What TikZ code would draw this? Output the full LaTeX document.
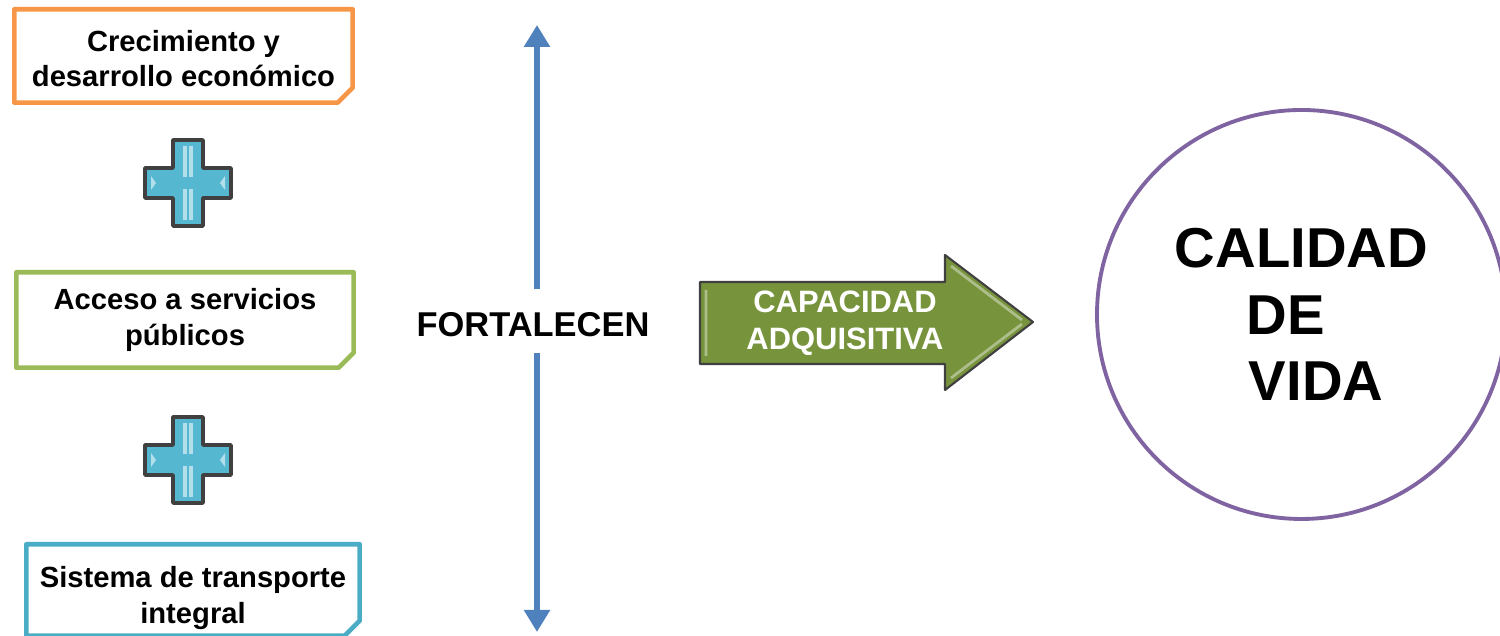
\documentclass[tikz,border=0pt]{standalone}
\usepackage{fontspec}
\setmainfont{Liberation Sans}
\usetikzlibrary{calc,arrows.meta}
\definecolor{orgbox}{HTML}{F79646}
\definecolor{grnbox}{HTML}{9BBB59}
\definecolor{bluebox}{HTML}{4BACC6}
\definecolor{plusblue}{HTML}{55B8D0}
\definecolor{arrowblue}{HTML}{4F81BD}
\definecolor{arrowgreen}{HTML}{77933C}
\definecolor{circpurple}{HTML}{8064A2}

\begin{document}
\begin{tikzpicture}[
  txt/.style={font=\bfseries\fontsize{8.3}{10}\selectfont, align=center, inner sep=0pt},
  frame/.style={line width=1.3pt, line join=round},
  cross/.style={fill=plusblue, draw=black!75, line width=1pt, line join=round},
  vArrow/.style={line width=1.8pt, draw=arrowblue, -{Triangle[width=0.25cm,length=0.22cm]}},
]
\xdef\fold{0.15}
\xdef\armw{0.15}
\xdef\arml{0.43}
\useasboundingbox (0,0) rectangle (15,6.36);
\node[txt, minimum width=3.37cm, minimum height=0.92cm] (crec) at (1.835,5.77) {Crecimiento y\\desarrollo económico};
\node[txt, minimum width=3.36cm, minimum height=0.94cm] (acc) at (1.85,3.16) {Acceso a servicios\\públicos};
\node[txt, minimum width=3.32cm, minimum height=0.90cm] (sis) at (1.93,0.38) {Sistema de transporte\\integral};
\foreach \n/\col/\dy in {crec/orgbox/0.03, acc/grnbox/0, sis/bluebox/0.08}{
  \draw[frame, draw=\col] ($(\n.north west)+(0,\dy)$) -- ($(\n.north east)+(0,\dy)$) -- ($(\n.south east)+(0,\fold+\dy)$) -- ($(\n.south east)+(-\fold,\dy)$) -- ($(\n.south west)+(0,\dy)$) -- cycle;
  \fill[\col] ($(\n.south east)+(0,\fold+\dy)$) -- ($(\n.south east)+(-0.6*\fold,0.45*\fold+\dy)$) -- ($(\n.south east)+(-\fold,\dy)$) -- cycle;
}
\coordinate (plusA) at (1.88,4.53);
\coordinate (plusB) at (1.88,1.76);
\foreach \p in {plusA,plusB}{
  \begin{scope}[shift={(\p)}]
  \draw[cross] (-\armw,\arml) -- (\armw,\arml) -- (\armw,\armw) -- (\arml,\armw) -- (\arml,-\armw) -- (\armw,-\armw) -- (\armw,-\arml) -- (-\armw,-\arml) -- (-\armw,-\armw) -- (-\arml,-\armw) -- (-\arml,\armw) -- (-\armw,\armw) -- cycle;
  \draw[white!55!plusblue, line width=1.2pt] (-0.03,0.37) -- (-0.03,0.06) (0.03,0.37) -- (0.03,0.06) (-0.03,-0.06) -- (-0.03,-0.37) (0.03,-0.06) -- (0.03,-0.37);
  \fill[white!55!plusblue] (-0.37,0.07) -- (-0.32,0) -- (-0.37,-0.07) -- cycle (0.37,0.07) -- (0.32,0) -- (0.37,-0.07) -- cycle;
  \end{scope}
}
\node[font=\bfseries\fontsize{9.8}{12}\selectfont] (fort) at (5.33,3.11) {FORTALECEN};
\coordinate (up) at (5.37,6.11);
\coordinate (dn) at (5.37,0.04);
\draw[vArrow] ($(fort.north -| up)+(0,0.11)$) -- (up);
\draw[vArrow] ($(fort.south -| dn)+(0,-0.03)$) -- (dn);
\filldraw[fill=arrowgreen, draw=black!75, line width=0.6pt, line join=round] (7.00,3.54) -- (9.45,3.54) -- (9.45,3.81) -- (10.33,3.14) -- (9.45,2.46) -- (9.45,2.72) -- (7.00,2.72) -- cycle;
\draw[arrowgreen!60!white, line width=0.8pt] (7.06,3.46) -- (7.06,2.80) (9.51,3.70) -- (10.22,3.16) (9.51,2.58) -- (10.22,3.12);
\node[txt, text=white, font=\bfseries\fontsize{8.8}{10.5}\selectfont] (cap) at (8.45,3.13) {CAPACIDAD\\ADQUISITIVA};
\node[circle, draw=circpurple, line width=1.1pt, minimum size=4.09cm, inner sep=0pt, align=left, font=\bfseries\fontsize{16}{19}\selectfont] (vida) at (13.015,3.215) {CALIDAD\\\hspace*{0.72cm}DE\\\hspace*{0.74cm}VIDA};
\end{tikzpicture}
\end{document}
